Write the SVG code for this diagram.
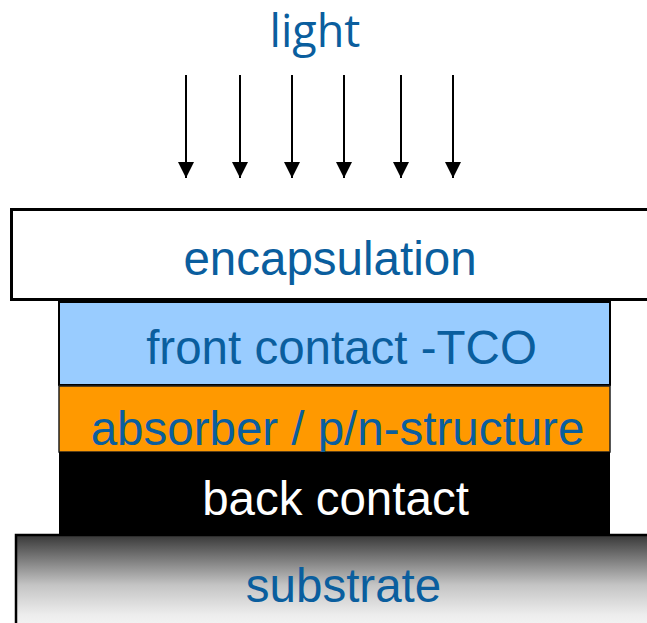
<svg xmlns="http://www.w3.org/2000/svg" width="647" height="623" viewBox="0 0 647 623">
<style>
.lbl{font-family:"Liberation Sans",Arial,sans-serif;font-size:47.5px;fill:#0A5E9E;text-anchor:middle}
.arr{stroke:#000;stroke-width:2;fill:none;marker-end:url(#ah)}
</style>
<defs>
<marker id="ah" viewBox="0 0 16 16" refX="16" refY="8" markerWidth="16" markerHeight="16" markerUnits="userSpaceOnUse" orient="auto">
<path d="M0,0 L16,8 L0,16 Z" fill="#000"/>
</marker>
<linearGradient id="sub" x1="0" y1="0" x2="0" y2="1">
<stop offset="0" stop-color="#383838"/>
<stop offset="0.5" stop-color="#c4c4c4"/>
<stop offset="0.8" stop-color="#ededed"/>
<stop offset="1" stop-color="#f8f8f8"/>
</linearGradient>
</defs>
<rect width="647" height="623" fill="#fff"/>
<g id="light">
<text x="315" y="47" style="font-family:'Open Sans','Liberation Sans',sans-serif;font-size:45px;fill:#0A5E9E;text-anchor:middle">light</text>
</g>
<g id="connectors">
<line class="arr" x1="186" y1="75" x2="186" y2="178"/>
<line class="arr" x1="240" y1="75" x2="240" y2="178"/>
<line class="arr" x1="292" y1="75" x2="292" y2="178"/>
<line class="arr" x1="344" y1="75" x2="344" y2="178"/>
<line class="arr" x1="401" y1="75" x2="401" y2="178"/>
<line class="arr" x1="453" y1="75" x2="453" y2="178"/>
</g>
<g id="encapsulation">
<rect x="11.5" y="209.5" width="650" height="90" fill="#fff" stroke="#000" stroke-width="3"/>
<text class="lbl" x="330" y="275">encapsulation</text>
</g>
<g id="front-contact">
<rect x="59" y="302" width="551" height="83" fill="#99CCFF" stroke="#000" stroke-width="2"/>
<text class="lbl" x="341.5" y="364">front contact -TCO</text>
</g>
<g id="absorber">
<rect x="59" y="386" width="551" height="66" fill="#FF9900" stroke="#222" stroke-width="1.5"/>
<text class="lbl" x="337.5" y="445">absorber / p/n-structure</text>
</g>
<g id="back-contact">
<rect x="59" y="452" width="551" height="83" fill="#000"/>
<text class="lbl" x="335.5" y="515" style="fill:#fff">back contact</text>
</g>
<g id="substrate">
<rect x="16" y="535" width="660" height="100" fill="url(#sub)" stroke="#000" stroke-width="2.5"/>
<text class="lbl" x="343.5" y="602">substrate</text>
</g>
</svg>
